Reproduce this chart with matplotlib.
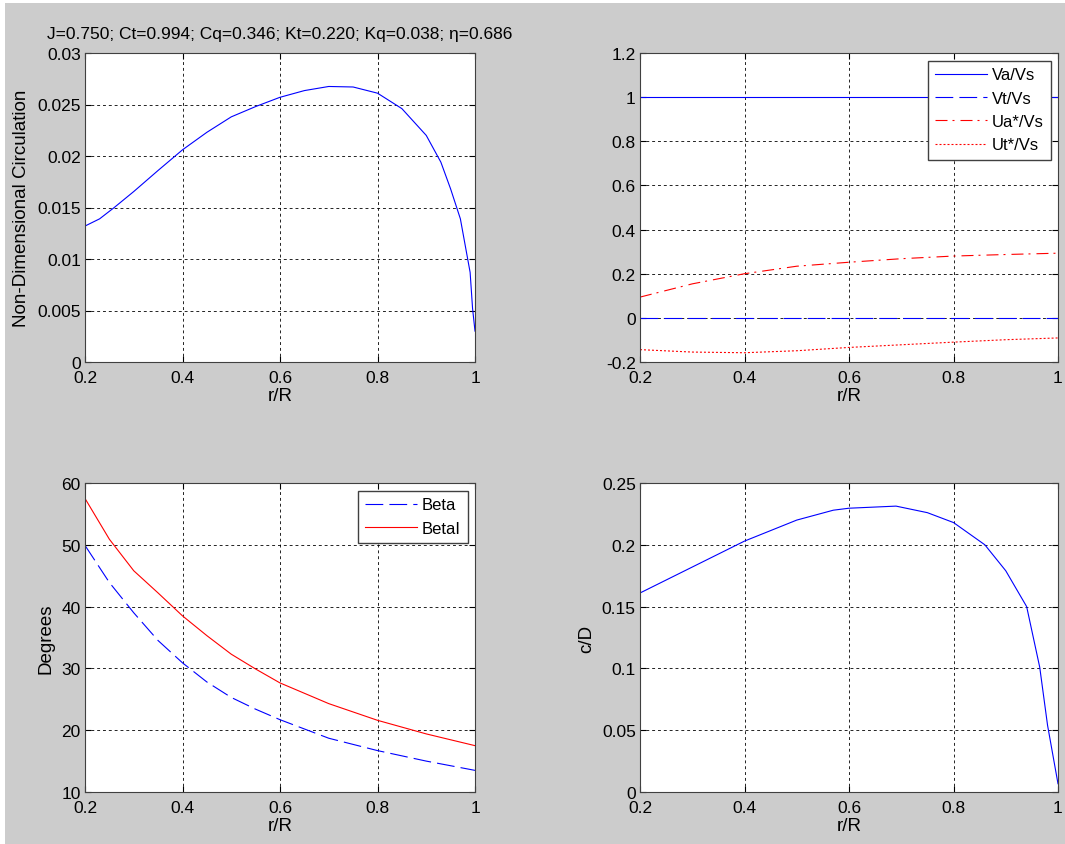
import matplotlib
matplotlib.use("Agg")
import matplotlib.pyplot as plt
from matplotlib.patches import Rectangle

plt.rcParams["font.family"] = ["Liberation Sans", "DejaVu Sans"]

# circulation
r_circ = [0.2, 0.23, 0.26, 0.3, 0.35, 0.4, 0.45, 0.5, 0.55, 0.6, 0.65, 0.7, 0.75,
          0.8, 0.85, 0.9, 0.93, 0.95, 0.97, 0.99, 0.995, 1.0]
circ = [0.0132, 0.0139, 0.0150, 0.01655, 0.0186, 0.0206, 0.0223, 0.0238, 0.0248,
        0.0257, 0.02635, 0.02675, 0.0267, 0.0261, 0.0246, 0.0220, 0.0194, 0.0168,
        0.0139, 0.0087, 0.0052, 0.0030]

# velocities
r_vel = [0.2, 0.3, 0.4, 0.5, 0.6, 0.7, 0.8, 0.9, 1.0]
va = [1, 1, 1, 1, 1, 1, 1, 1, 1]
vt = [0, 0, 0, 0, 0, 0, 0, 0, 0]
ua = [0.094, 0.154, 0.200, 0.234, 0.252, 0.268, 0.280, 0.287, 0.293]
ut = [-0.144, -0.155, -0.158, -0.149, -0.134, -0.122, -0.110, -0.099, -0.091]

# pitch angles
r_beta = [0.2, 0.25, 0.3, 0.35, 0.4, 0.45, 0.5, 0.55, 0.6, 0.7, 0.8, 0.9, 1.0]
beta = [49.9, 43.9, 39.0, 34.5, 30.9, 27.8, 25.3, 23.4, 21.7, 18.7, 16.7, 15.0, 13.5]
betai = [57.5, 50.9, 45.8, 42.2, 38.5, 35.3, 32.3, 29.9, 27.65, 24.3, 21.6, 19.4, 17.5]

# chord
r_cd = [0.2, 0.3, 0.4, 0.5, 0.57, 0.6, 0.69, 0.75, 0.8, 0.86, 0.9, 0.94, 0.965, 0.98, 1.0]
cd = [0.161, 0.182, 0.203, 0.220, 0.228, 0.2296, 0.2313, 0.226, 0.218, 0.200,
      0.179, 0.150, 0.101, 0.054, 0.0067]

title_txt = "J=0.750; Ct=0.994; Cq=0.346; Kt=0.220; Kq=0.038; \u03b7=0.686"

fig = plt.figure(figsize=(10.65, 8.45), dpi=100, facecolor="white")
fig.patches.append(Rectangle((5 / 1065, 0), 1, 1 - 4 / 845, transform=fig.transFigure,
                             facecolor="#cccccc", edgecolor="none", zorder=-10))

W, H = 1065, 845
def make_ax(l, t, r, b):
    return fig.add_axes([l / W, (H - b) / H, (r - l) / W, (b - t) / H])

ax1 = make_ax(85, 54, 475, 363)
ax2 = make_ax(640, 54, 1058, 363)
ax3 = make_ax(85, 484, 475, 793)
ax4 = make_ax(640, 484, 1058, 793)

blue = "#0000ff"
red = "#ff0000"
lw = 0.8
dash = (16, 5.5)
dashdot = (10.8, 4.5, 1.8, 5.4)
dot = (1.8, 1.8)

leg_kw = dict(loc="upper right", fontsize=12, fancybox=False, edgecolor="#404040",
              framealpha=1, handlelength=3.1, handletextpad=0.3, borderaxespad=0.45,
              labelspacing=0.5, borderpad=0.42)

ax1.plot(r_circ, circ, color=blue, lw=lw)
ax1.set_ylim(0, 0.03)
ax1.set_yticks([0, 0.005, 0.01, 0.015, 0.02, 0.025, 0.03])
ax1.set_yticklabels(["0", "0.005", "0.01", "0.015", "0.02", "0.025", "0.03"])
ax1.set_ylabel("Non-Dimensional Circulation", fontsize=13.5, labelpad=5)
ax1.set_title(title_txt, fontsize=12.5, pad=11)

ax2.plot(r_vel, va, color=blue, lw=lw, label="Va/Vs")
ax2.plot(r_vel, vt, color=blue, lw=lw, dashes=dash, label="Vt/Vs")
ax2.plot(r_vel, ua, color=red, lw=lw, dashes=dashdot, label="Ua*/Vs")
ax2.plot(r_vel, ut, color=red, lw=lw, dashes=dot, label="Ut*/Vs")
ax2.set_ylim(-0.2, 1.2)
ax2.set_yticks([-0.2, 0, 0.2, 0.4, 0.6, 0.8, 1.0, 1.2])
ax2.set_yticklabels(["-0.2", "0", "0.2", "0.4", "0.6", "0.8", "1", "1.2"])
ax2.legend(**leg_kw)

ax3.plot(r_beta, beta, color=blue, lw=lw, dashes=dash, label="Beta")
ax3.plot(r_beta, betai, color=red, lw=lw, label="BetaI")
ax3.set_ylim(10, 60)
ax3.set_ylabel("Degrees", fontsize=13.5, labelpad=5)
ax3.legend(**leg_kw)

ax4.plot(r_cd, cd, color=blue, lw=lw)
ax4.set_ylim(0, 0.25)
ax4.set_yticks([0, 0.05, 0.1, 0.15, 0.2, 0.25])
ax4.set_yticklabels(["0", "0.05", "0.1", "0.15", "0.2", "0.25"])
ax4.set_ylabel("c/D", fontsize=13.5, labelpad=5)

for ax in (ax1, ax2, ax3, ax4):
    ax.set_facecolor("white")
    ax.set_xlim(0.2, 1.0)
    ax.set_xticks([0.2, 0.4, 0.6, 0.8, 1.0])
    ax.set_xticklabels(["0.2", "0.4", "0.6", "0.8", "1"])
    ax.set_xlabel("r/R", fontsize=13.5, labelpad=2)
    ax.grid(True, color="black", linestyle=(0, (3.5, 3.5)), lw=0.6)
    ax.tick_params(direction="in", length=4, labelsize=12.5, top=True, right=True)
    ax.tick_params(axis="x", pad=5.5)
    ax.tick_params(axis="y", pad=3)
    for s in ax.spines.values():
        s.set_color("#404040")
        s.set_linewidth(0.8)

fig.savefig("out.png", dpi=100, facecolor=fig.get_facecolor())
